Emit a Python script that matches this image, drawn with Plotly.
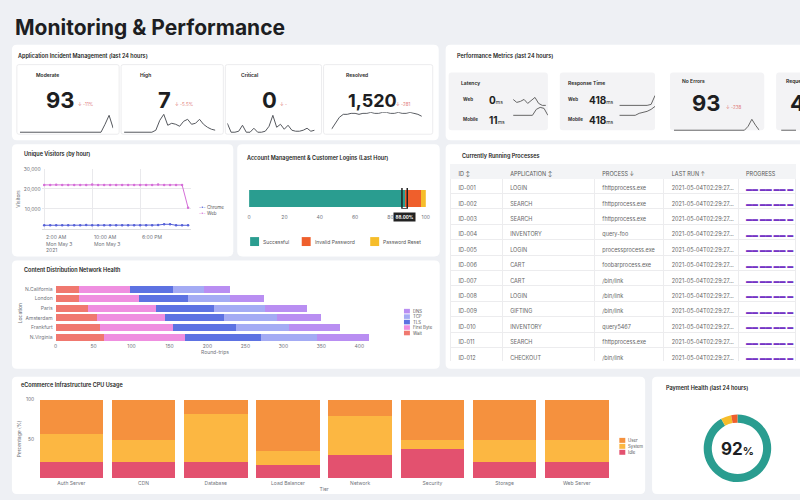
import plotly.graph_objects as go

W, H = 800, 500
FONT = "Inter, 'Noto Sans', sans-serif"
BG = "#eef0f4"
DARK = "#1d1e22"
MUTED = "#6b6f76"
RED_TXT = "#e07a7a"

# ---------------- data ----------------
INCIDENT_LABELS = ["Moderate", "High", "Critical", "Resolved"]
INCIDENT_VALUES = ["93", "7", "0", "1,520"]
INCIDENT_DELTAS = ["↓ -11%", "↓ -5.5%", "↓ -", "↓ -281"]
SPARK_HOURS = [0, 1, 2, 3, 4, 5, 6, 7, 8, 9, 10, 11, 12, 13, 14, 15, 16, 17, 18, 19, 20, 21, 22, 23]
MODERATE_TREND = [0, 0, 0, 0, 0, 0, 0, 0, 0, 0, 0, 0, 0, 0, 0, 0, 0, 0, 0, 0, 0, 8, 17, 4]
HIGH_TREND = [0, 0, 0, 0, 0, 0, 0, 0, 2, 12, 18, 7, 9, 8, 6, 11, 13, 8, 9, 13, 8, 5, 3, 2]
CRITICAL_TREND = [9, 0, 0, 1, 7, 0, 0, 4, 0, 0, 1, 6, 17, 5, 8, 3, 7, 2, 1, 1, 2, 4, 1, 2]
RESOLVED_TREND = [3, 9, 15, 18, 18, 19, 19, 18, 19, 19, 20, 19, 19, 20, 20, 19, 19, 20, 19, 19, 20, 19, 18, 16]

PERF_STEPS = [0, 1, 2, 3, 4, 5, 6, 7, 8, 9]
LATENCY_WEB = [6, 3, 4, 6, 2, 5, 8, 2, 0, 0]
LATENCY_MOBILE = [0, 0, 0, 0, 0, 0, 6, 8, 7, 0]
RESPONSE_WEB = [0, 0, 0, 0, 0, 0, 0, 0, 1, 10]
RESPONSE_MOBILE = [0, 0, 0, 0, 0, 2, 3, 4, 6, 9]
NO_ERRORS_TREND = [0, 0, 0, 0, 0, 0, 0, 0, 0, 0, 0, 0, 0, 0, 0, 0, 0, 0, 0, 0, 4, 11, 5, 0]
REQUESTS_TREND = [0, 0, 0, 0]
LATENCY_VALUES = ["0", "11"]
RESPONSE_VALUES = ["418", "418"]
NO_ERRORS_VALUE = "93"
NO_ERRORS_DELTA = "↓ -238"
REQUESTS_VALUE = "4,862"

VISIT_TIMES = [
    "2021-05-03 02:00", "2021-05-03 03:00", "2021-05-03 04:00", "2021-05-03 05:00",
    "2021-05-03 06:00", "2021-05-03 07:00", "2021-05-03 08:00", "2021-05-03 09:00",
    "2021-05-03 10:00", "2021-05-03 11:00", "2021-05-03 12:00", "2021-05-03 13:00",
    "2021-05-03 14:00", "2021-05-03 15:00", "2021-05-03 16:00", "2021-05-03 17:00",
    "2021-05-03 18:00", "2021-05-03 19:00", "2021-05-03 20:00", "2021-05-03 21:00",
    "2021-05-03 22:00", "2021-05-03 23:00", "2021-05-04 00:00", "2021-05-04 01:00",
    "2021-05-04 02:00",
]
WEB_VISITORS = [22000, 22000, 22100, 22000, 22000, 22000, 22000, 22000, 22200, 22000,
                22000, 22000, 22000, 22000, 22000, 22000, 22000, 22000, 22000, 22200,
                22000, 22000, 22000, 22000, 10500]
CHROME_VISITORS = [1700, 1700, 1700, 1700, 1700, 1700, 1700, 1800, 1700, 1700,
                   1700, 1700, 1700, 1700, 1700, 1700, 1700, 1700, 1700, 1800,
                   2200, 2200, 1700, 1700, 1700]
VISIT_TICKS = ["2021-05-03 02:00", "2021-05-03 10:00", "2021-05-03 18:00"]
VISIT_TICK_TEXT = ["2:00 AM<br>Mon May 3<br>2021", "10:00 AM<br>Mon May 3", "6:00 PM"]

LOGIN_TYPES = ["Successful", "Invalid Password", "Password Reset"]
LOGIN_SHARE = [88, 9, 3]

LOCATIONS = ["N.California", "London", "Paris", "Amsterdam", "Frankfurt", "N.Virginia"]
CDN_WAIT = [31, 31, 43, 54, 59, 64]
CDN_FIRST_BYTE = [67, 79, 89, 90, 95, 107]
CDN_TLS = [56, 65, 77, 78, 84, 100]
CDN_TCP = [41, 55, 67, 69, 70, 73]
CDN_DNS = [35, 44, 55, 59, 67, 69]

TIERS = ["Auth Server", "CDN", "Database", "Load Balancer", "Network", "Security", "Storage", "Web Server"]
CPU_IDLE = [21, 21, 21, 17, 29, 37, 21, 20]
CPU_SYSTEM = [35, 28, 61, 17, 50, 12, 28, 29]
CPU_USER = [44, 51, 18, 66, 21, 51, 51, 51]

PAYMENT_STATUS = ["Successful", "Pending", "Failed"]
PAYMENT_SHARE = [92, 5, 3]

PROC_HEADERS = ["ID ↕", "APPLICATION ↕", "PROCESS ↓", "LAST RUN ↑", "PROGRESS"]
PROC_IDS = ["ID-001", "ID-002", "ID-003", "ID-004", "ID-005", "ID-006",
            "ID-007", "ID-008", "ID-009", "ID-010", "ID-011", "ID-012"]
PROC_APPS = ["LOGIN", "SEARCH", "SEARCH", "INVENTORY", "LOGIN", "CART",
             "CART", "LOGIN", "GIFTING", "INVENTORY", "SEARCH", "CHECKOUT"]
PROC_NAMES = ["fhttpprocess.exe", "fhttpprocess.exe", "fhttpprocess.exe", "query-foo",
              "processprocess.exe", "foobarprocess.exe", "/bin/link", "/bin/link",
              "/bin/link", "query5467", "fhttpprocess.exe", "/bin/link"]
PROC_LAST_RUN = ["2021-05-04T02:29:27…"] * 12
PROC_PROGRESS = ["▬▬\u00a0▬▬\u00a0▬▬\u00a0▬"] * 12

# colours
TEAL = "#2a9d90"
ORANGE_RED = "#ef5f2c"
YELLOW = "#f6bd2a"
C_WAIT, C_FB, C_TLS, C_TCP, C_DNS = "#f0786f", "#ef8fe0", "#5d72e2", "#a4abf4", "#b98ef2"
C_USER, C_SYSTEM, C_IDLE = "#f5913e", "#fcb742", "#e3516f"
C_CHROME, C_WEB = "#5661d8", "#d56fd8"


def px(x):
    return x / W


def py(y):
    return 1 - y / H


shapes = []
annotations = []


def panel(x0, y0, x1, y1, fill="white", line=None, r=5):
    X0, X1, Y0, Y1 = px(x0), px(x1), py(y0), py(y1)
    rx, ry = r / W, r / H
    path = (f"M {X0+rx},{Y0} L {X1-rx},{Y0} Q {X1},{Y0} {X1},{Y0-ry} "
            f"L {X1},{Y1+ry} Q {X1},{Y1} {X1-rx},{Y1} L {X0+rx},{Y1} "
            f"Q {X0},{Y1} {X0},{Y1+ry} L {X0},{Y0-ry} Q {X0},{Y0} {X0+rx},{Y0} Z")
    shapes.append(dict(type="path", path=path, xref="paper", yref="paper",
                       fillcolor=fill, layer="below",
                       line=dict(color=line if line else fill, width=1 if line else 0)))


def swatch(x, y, w, h, color):
    shapes.append(dict(type="rect", xref="paper", yref="paper",
                       x0=px(x), x1=px(x + w), y0=py(y + h / 2), y1=py(y - h / 2),
                       fillcolor=color, line=dict(width=0)))


def text(x, y, s, size=6, color=DARK, weight=400, xanchor="left", yanchor="middle", **kw):
    annotations.append(dict(x=px(x), y=py(y), xref="paper", yref="paper", text=s,
                            showarrow=False, xanchor=xanchor, yanchor=yanchor,
                            font=dict(family=FONT, size=size, color=color, weight=weight), **kw))


layout_axes = {}


def axes(n, xd, yd, xkw=None, ykw=None):
    xs = "" if n == 1 else str(n)
    layout_axes["xaxis" + xs] = dict(domain=[px(xd[0]), px(xd[1])], anchor="y" + xs, **(xkw or {}))
    layout_axes["yaxis" + xs] = dict(domain=[py(yd[1]), py(yd[0])], anchor="x" + xs, **(ykw or {}))
    return "x" + xs, "y" + xs


fig = go.Figure()


def spark(n, xd, yd, xs, ys, yr, color="#55585e"):
    xa, ya = axes(n, xd, yd,
                  dict(visible=False, range=[xs[0], xs[-1]], fixedrange=True),
                  dict(visible=False, range=yr, fixedrange=True))
    fig.add_trace(go.Scatter(x=xs, y=ys, xaxis=xa, yaxis=ya, mode="lines",
                             line=dict(color=color, width=1), hoverinfo="skip",
                             showlegend=False, cliponaxis=False))


# ---------------- panels ----------------
panel(10, 42, 440, 138)
panel(447, 42, 815, 138)
panel(10, 142, 233, 255)
panel(237, 142, 441, 255)
panel(447, 142, 815, 368)
panel(10, 259, 441, 368)
panel(10, 376, 648, 494)
panel(655, 376, 815, 494)

text(11, 25, "Monitoring & Performance", size=21, weight=700)

# ---------------- incident cards ----------------
text(14, 53, "Application Incident Management (last 24 hours)", size=5.5, weight=600)
cards = [(15, 118), (120, 223), (225, 322), (324, 434)]
for (a, b) in cards:
    panel(a, 62, b, 132, fill="white", line="#ececee", r=2)
label_x = [32, 137, 239, 345]
value_x = [42, 155, 260, 347]
value_size = [22, 22, 22, 18]
delta_x = [75, 172, 278, 395]
for i in range(4):
    text(label_x[i], 72, INCIDENT_LABELS[i], size=5, weight=600)
    text(value_x[i], 98, INCIDENT_VALUES[i], size=value_size[i], weight=700)
    text(delta_x[i], 102, INCIDENT_DELTAS[i], size=4.5, color=RED_TXT)

spark(5, (18, 112), (110, 131), SPARK_HOURS, MODERATE_TREND, [-1, 20])
spark(6, (123, 215), (110, 131), SPARK_HOURS, HIGH_TREND, [-1, 20])
spark(7, (227, 315), (110, 131), SPARK_HOURS, CRITICAL_TREND, [-1, 20])
spark(8, (332, 423), (110, 131), SPARK_HOURS, RESOLVED_TREND, [-1, 20])

# ---------------- performance metrics ----------------
text(456, 53, "Performance Metrics (last 24 hours)", size=5.5, weight=600)
for (a, b) in [(450, 550), (562, 658), (673, 768), (780, 830)]:
    panel(a, 70, b, 128, fill="#f3f3f5", r=3)
text(460, 80, "Latency", size=5, weight=600)
text(568, 80, "Response Time", size=5, weight=600)
text(683, 78, "No Errors", size=5, weight=600)
text(788, 78, "Requests", size=5, weight=600)
for j, yrow in enumerate([97, 117]):
    lab = ["Web", "Mobile"][j]
    text(462, yrow, lab, size=4.5, weight=700, color="#333")
    text(568, yrow, lab, size=4.5, weight=700, color="#333")
    text(489, yrow + 1, f"{LATENCY_VALUES[j]}<span style='font-size:5px;font-weight:400'>ms</span>",
         size=10, weight=700)
    text(589, yrow + 1, f"{RESPONSE_VALUES[j]}<span style='font-size:5px;font-weight:400'>ms</span>",
         size=10, weight=700)
text(693, 101, NO_ERRORS_VALUE, size=22, weight=700)
text(727, 105, NO_ERRORS_DELTA, size=4.5, color=RED_TXT)
text(792, 101, REQUESTS_VALUE, size=22, weight=700)

spark(9, (515, 548), (94, 104), PERF_STEPS, LATENCY_WEB, [-1, 9], color="#666")
spark(10, (515, 550), (103, 114), PERF_STEPS, LATENCY_MOBILE, [-1, 10], color="#666")
spark(11, (622, 658), (92, 104), PERF_STEPS, RESPONSE_WEB, [-1, 11], color="#666")
spark(12, (622, 658), (103, 114), PERF_STEPS, RESPONSE_MOBILE, [-1, 10], color="#666")
spark(13, (677, 763), (116, 129), SPARK_HOURS, NO_ERRORS_TREND, [-1, 12], color="#666")
spark(14, (785, 800), (116, 129), [0, 1, 2, 3], REQUESTS_TREND, [-1, 12], color="#666")

TICKF = dict(family=FONT, size=5, color="#6f737a")

# ---------------- unique visitors ----------------
text(20, 152, "Unique Visitors (by hour)", size=5.5, weight=600)
xa, ya = axes(1, (40, 190), (167, 227),
              dict(type="date", range=["2021-05-03 01:35", "2021-05-04 02:25"],
                   tickvals=VISIT_TICKS, showticklabels=False, showgrid=True,
                   gridcolor="#e9e9ec", showline=True, linecolor="#dcdde0", zeroline=False,
                   fixedrange=True),
              dict(range=[0, 30000], tickvals=[10000, 20000, 30000],
                   ticktext=["10,000", "20,000", "30,000"], tickfont=TICKF,
                   gridcolor="#e9e9ec", zeroline=False, fixedrange=True,
                   title=dict(text="Visitors", font=TICKF, standoff=3)))
fig.add_trace(go.Scatter(x=VISIT_TIMES, y=WEB_VISITORS, xaxis=xa, yaxis=ya, name="Web",
                         mode="lines+markers", line=dict(color=C_WEB, width=1),
                         marker=dict(size=2.5, color=C_WEB), showlegend=False))
fig.add_trace(go.Scatter(x=VISIT_TIMES, y=CHROME_VISITORS, xaxis=xa, yaxis=ya, name="Chrome",
                         mode="lines+markers", line=dict(color=C_CHROME, width=1),
                         marker=dict(size=2.5, color=C_CHROME), showlegend=False))
for tv, tt in zip(VISIT_TICKS, VISIT_TICK_TEXT):
    annotations.append(dict(x=tv, xref=xa, y=py(230), yref="paper", text=tt, showarrow=False,
                            xanchor="left", yanchor="top", align="left", font=TICKF))
text(196, 206, f"<span style='color:{C_CHROME}'>-•-</span> Chrome", size=4.5, color="#555")
text(196, 212, f"<span style='color:{C_WEB}'>-•-</span> Web", size=4.5, color="#555")

# ---------------- account management ----------------
text(245, 155, "Account Management & Customer Logins (Last Hour)", size=5.5, weight=600)
xa, ya = axes(2, (249, 427), (186, 207),
              dict(range=[0, 100], tickvals=[0, 20, 40, 60, 80, 100], tickfont=TICKF,
                   showgrid=False, zeroline=False, fixedrange=True, ticklabelstandoff=4),
              dict(visible=False, range=[-0.5, 0.5], fixedrange=True))
for name, val, col in zip(LOGIN_TYPES, LOGIN_SHARE, [TEAL, ORANGE_RED, YELLOW]):
    fig.add_trace(go.Bar(x=[val], y=["Logins"], orientation="h", xaxis=xa, yaxis=ya, name=name,
                         marker=dict(color=col, line=dict(width=0)), width=0.8, showlegend=False))
shapes.append(dict(type="rect", xref=xa, yref=ya, x0=LOGIN_SHARE[0] - 1.5, x1=LOGIN_SHARE[0] + 1.5,
                   y0=-0.5, y1=0.62, line=dict(color="#222", width=1.5), fillcolor="rgba(0,0,0,0)"))
annotations.append(dict(x=LOGIN_SHARE[0], xref=xa, y=py(215), yref="paper",
                        text=f"{LOGIN_SHARE[0]:.2f}%", showarrow=False, bgcolor="#222",
                        borderpad=1.5, font=dict(family=FONT, size=4.5, color="white", weight=700)))
for lx, name, col in zip([250, 302, 371], LOGIN_TYPES, [TEAL, ORANGE_RED, YELLOW]):
    swatch(lx, 240, 9, 9, col)
    text(lx + 11, 240, name, size=5, color="#555")

# ---------------- CDN health ----------------
text(20, 268, "Content Distribution Network Health", size=5.5, weight=600)
xa, ya = axes(3, (54, 375.3), (283, 341),
              dict(range=[0, 420], tickvals=[0, 50, 100, 150, 200, 250, 300, 350, 400],
                   tickfont=TICKF, showgrid=False, zeroline=False, fixedrange=True,
                   title=dict(text="Round-trips", font=TICKF, standoff=2)),
              dict(categoryorder="array", categoryarray=LOCATIONS, autorange="reversed",
                   tickfont=TICKF, fixedrange=True, ticklabelstandoff=2,
                   title=dict(text="Location", font=TICKF, standoff=2)))
cdn_series = [("Wait", CDN_WAIT, C_WAIT), ("First Byte", CDN_FIRST_BYTE, C_FB),
              ("TLS", CDN_TLS, C_TLS), ("TCP", CDN_TCP, C_TCP), ("DNS", CDN_DNS, C_DNS)]
for name, vals, col in cdn_series:
    fig.add_trace(go.Bar(x=vals, y=LOCATIONS, orientation="h", xaxis=xa, yaxis=ya, name=name,
                         marker=dict(color=col, line=dict(width=0)), width=0.73, showlegend=False))
for k, (name, vals, col) in enumerate(reversed(cdn_series)):
    yy = 310 + k * 5.5
    swatch(405, yy, 6, 4.6, col)
    text(412, yy, name, size=4.3, color="#555")

# ---------------- CPU usage ----------------
text(17, 384, "eCommerce Infrastructure CPU Usage", size=5.5, weight=600)
xa, ya = axes(4, (33.5, 615.5), (399, 478),
              dict(tickfont=TICKF, showgrid=False, zeroline=False, fixedrange=True,
                   ticklabelstandoff=1, title=dict(text="Tier", font=TICKF, standoff=2)),
              dict(range=[0, 100], tickvals=[50, 100], tickfont=TICKF, showgrid=False,
                   zeroline=False, fixedrange=True,
                   title=dict(text="Percentage (%)", font=TICKF, standoff=4)))
cpu_series = [("Idle", CPU_IDLE, C_IDLE), ("System", CPU_SYSTEM, C_SYSTEM), ("User", CPU_USER, C_USER)]
for name, vals, col in cpu_series:
    fig.add_trace(go.Bar(x=TIERS, y=vals, xaxis=xa, yaxis=ya, name=name,
                         marker=dict(color=col, line=dict(width=0)), width=0.88, showlegend=False))
for k, (name, vals, col) in enumerate(reversed(cpu_series)):
    yy = 440 + k * 6
    swatch(622, yy, 6, 5, col)
    text(629, yy, name, size=4.3, color="#555")

# ---------------- payment health ----------------
text(667, 387, "Payment Health (last 24 hours)", size=5.5, weight=600)
fig.add_trace(go.Pie(values=PAYMENT_SHARE, labels=PAYMENT_STATUS, hole=0.76, sort=False,
                     direction="clockwise", rotation=0, textinfo="none",
                     marker=dict(colors=[TEAL, YELLOW, ORANGE_RED], line=dict(width=0)),
                     domain=dict(x=[px(707), px(775)], y=[py(482), py(414)]), showlegend=False))
text(741, 449, f"{PAYMENT_SHARE[0]}<span style='font-size:11px'>%</span>", size=17, weight=700,
     xanchor="center")

# ---------------- processes table ----------------
text(461, 153, "Currently Running Processes", size=5.5, weight=600)
fig.add_trace(go.Table(
    domain=dict(x=[px(452), 1], y=[py(361), py(162)]),
    columnwidth=[52, 93, 70, 75, 58],
    header=dict(values=PROC_HEADERS, align="left", fill_color="#f3f4f6", line_color="#f3f4f6",
                font=dict(family=FONT, size=5.5, color="#555"), height=14),
    cells=dict(values=[PROC_IDS, PROC_APPS, PROC_NAMES, PROC_LAST_RUN, PROC_PROGRESS],
               align="left", fill_color="white", line=dict(color="#ececee", width=1),
               font=dict(family=FONT, size=[5.5, 5.5, 5.5, 5.5, 6],
                         color=["#666", "#666", "#666", "#666", "#7434c4"]),
               height=15.4),
))

fig.update_layout(
    width=W, height=H, margin=dict(l=0, r=0, t=0, b=0), autosize=False,
    paper_bgcolor=BG, plot_bgcolor="rgba(0,0,0,0)", barmode="stack",
    font=dict(family=FONT, size=6, color=DARK),
    shapes=shapes, annotations=annotations, showlegend=False, hovermode="closest",
    **layout_axes,
)

fig.write_html(
    "out.html",
    config={"displayModeBar": False},
    post_script="document.body.style.margin='0';document.body.style.overflow='hidden';",
)
